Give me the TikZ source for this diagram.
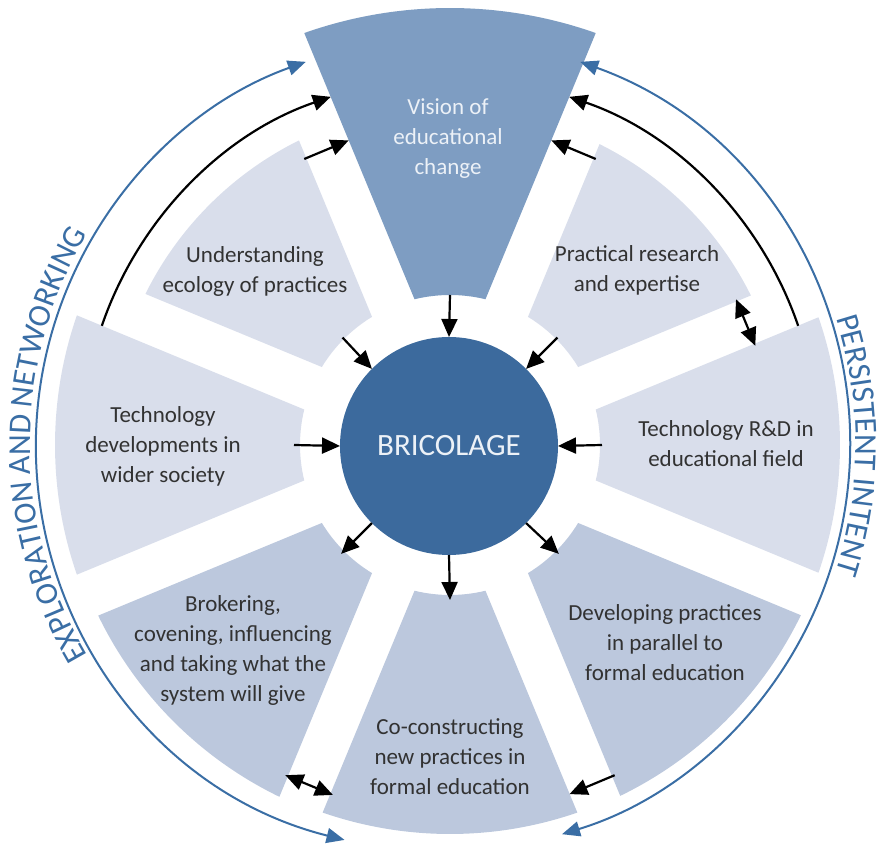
\documentclass[tikz,border=0pt]{standalone}
\usepackage{fontspec}
\setmainfont{Carlito}
\usetikzlibrary{arrows.meta,decorations.text}
\definecolor{visionblue}{RGB}{126,157,194}
\definecolor{bricblue}{RGB}{60,106,157}
\definecolor{midsec}{RGB}{188,200,221}
\definecolor{lightsec}{RGB}{217,222,235}
\definecolor{arcblue}{RGB}{58,110,165}
\definecolor{txtgray}{RGB}{50,50,50}
\definecolor{lighttxt}{RGB}{236,241,247}
\newcommand{\gapw}{23}
\newcommand{\rin}{150}
\newcommand{\sectorpath}[4]{%
  \fill[#4] ({#1+asin(\gapw/#3)}:#3) arc[start angle={#1+asin(\gapw/#3)}, end angle={#2-asin(\gapw/#3)}, radius=#3]
  -- ({#2-asin(\gapw/\rin)}:\rin) arc[start angle={#2-asin(\gapw/\rin)}, end angle={#1+asin(\gapw/\rin)}, radius=\rin] -- cycle;}
\newcommand{\arcfont}{\fontsize{16}{16}\selectfont\color{arcblue}}
\begin{document}
\begin{tikzpicture}[x=0.5pt,y=0.5pt,
  arr/.style={line width=1.1pt,draw=black,-{Triangle[length=9pt,width=8pt]}},
  darr/.style={line width=1.1pt,draw=black,{Triangle[length=9pt,width=8pt]}-{Triangle[length=9pt,width=8pt]}},
  bluearr/.style={line width=1pt,draw=arcblue,{Triangle[length=9pt,width=7.5pt]}-{Triangle[length=9pt,width=7.5pt]}},
  label/.style={font=\fontsize{11.5}{15}\selectfont,text=txtgray,align=center,inner sep=0pt},
  lightlabel/.style={label,text=lighttxt}]
\useasboundingbox (-450,-404) rectangle (432,445);
% sectors
\sectorpath{67.5}{112.5}{437}{visionblue}
\sectorpath{22.5}{67.5}{336}{lightsec}
\sectorpath{-22.5}{22.5}{390}{lightsec}
\sectorpath{-67.5}{-22.5}{390}{midsec}
\sectorpath{-112.5}{-67.5}{389}{midsec}
\sectorpath{202.5}{247.5}{391}{midsec}
\sectorpath{157.5}{202.5}{395}{lightsec}
\sectorpath{112.5}{157.5}{340}{lightsec}
% centre
\node[circle,fill=bricblue,minimum size=109pt,inner sep=0pt,outer sep=0pt,text=lighttxt,font=\fontsize{15.5}{16}\selectfont] (bric) at (-1,-1) {BRICOLAGE};
% labels
\node[lightlabel] (vision) at (-2,306) {Vision of\\educational\\change};
\node[label] (underst) at (-195,174) {Understanding\\ecology of practices};
\node[label] (practical) at (187,175) {Practical research\\and expertise};
\node[label] (techdev) at (-287,-1) {Technology\\developments in\\wider society};
\node[label] (techrd) at (276,1) {Technology R\&D in\\educational field};
\node[label] (brokering) at (-217,-205) {Brokering,\\covening, influencing\\and taking what the\\system will give};
\node[label] (cocon) at (0,-312) {Co-constructing\\new practices in\\formal education};
\node[label] (developing) at (215,-198) {Developing practices\\in parallel to\\formal education};
% radial arrows
\coordinate (rv) at (90:150);
\coordinate (ru) at (135:152);
\coordinate (rp) at (45:152);
\coordinate (rtd) at (180:156);
\coordinate (rtr) at (0:152);
\coordinate (rb) at (225:154);
\coordinate (rc) at (270:155);
\coordinate (rd) at (315:154);
\draw[arr] (rv) -- (bric.90);
\draw[arr] (ru) -- (bric.135);
\draw[arr] (rp) -- (bric.45);
\draw[arr] (rtd) -- (bric.180);
\draw[arr] (rtr) -- (bric.0);
\draw[arr] (bric.225) -- (rb);
\draw[arr] (bric.270) -- (rc);
\draw[arr] (bric.315) -- (rd);
% tangential arrows
\coordinate (uvA) at (117:321); \coordinate (uvB) at (108.4:321);
\coordinate (pvA) at (63:321);  \coordinate (pvB) at (71.6:321);
\coordinate (ptA) at (27:321);  \coordinate (ptB) at (18:321);
\coordinate (bcA) at (243.5:369); \coordinate (bcB) at (251.5:369);
\coordinate (dcA) at (296.5:369); \coordinate (dcB) at (288.9:369);
\draw[arr] (uvA) -- (uvB);
\draw[arr] (pvA) -- (pvB);
\draw[darr] (ptA) -- (ptB);
\draw[darr] (bcA) -- (bcB);
\draw[arr] (dcA) -- (dcB);
% long black arcs
\coordinate (laS) at (161.1:368);
\coordinate (raS) at (18.9:368);
\draw[arr] (laS) arc[start angle=161.1, end angle=108.9, radius=368];
\draw[arr] (raS) arc[start angle=18.9, end angle=71.1, radius=368];
% blue arcs
\coordinate (blS) at ([shift={(-7,0)}]256:407);
\coordinate (brS) at ([shift={(-7,0)}]70.3:407);
\draw[bluearr] (blS) arc[start angle=256, end angle=109.7, radius=407];
\draw[bluearr] (brS) arc[start angle=70.3, end angle=-73, radius=407];
% curved texts
\path[decorate,decoration={text along path,text align=center,text={|\arcfont|EXPLORATION AND NETWORKING}}]
  ([shift={(-7,0)}]215:413) arc[start angle=215, end angle=145, radius=413];
\path[decorate,decoration={text along path,text align=center,text={|\arcfont|PERSISTENT INTENT}}]
  ([shift={(-7,0)}]20:413) arc[start angle=20, end angle=-20, radius=413];
\end{tikzpicture}
\end{document}
